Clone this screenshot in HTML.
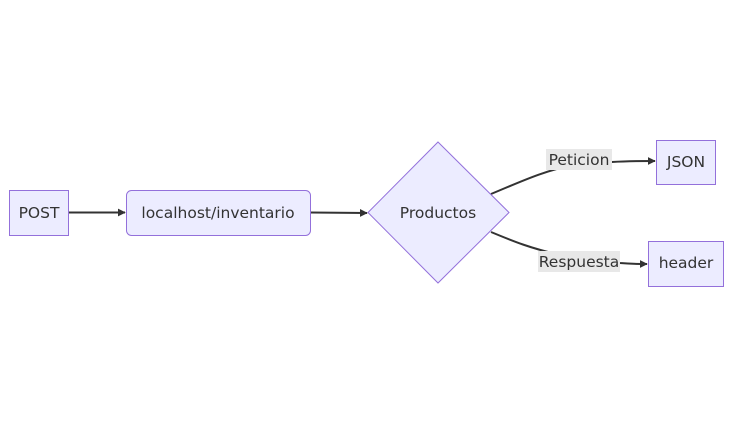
<!DOCTYPE html>
<html><head><style>
html,body{margin:0;padding:0;background:#fff;}
svg text{font-family:"DejaVu Sans","Liberation Sans",sans-serif;font-size:15.5px;fill:#333;}
</style></head><body>
<svg width="732" height="426" viewBox="0 0 732 426" xmlns="http://www.w3.org/2000/svg">
<defs><marker id="a" viewBox="0 0 10 10" refX="9" refY="5" markerWidth="4" markerHeight="4" orient="auto"><path d="M0,0L10,5L0,10z" fill="#333"/></marker></defs>
<g fill="none" stroke="#333" stroke-width="2">
<path d="M68,212.5L125,212.5" marker-end="url(#a)"/>
<path d="M310,212.5L367,213" marker-end="url(#a)"/>
<path d="M491,194C520,182 545,170 575,165L612,162C630,161 640,161 655,161" marker-end="url(#a)"/>
<path d="M491,232C515,242 530,248 560,255L620,263C632,264 640,264 647,264" marker-end="url(#a)"/>
</g>
<g fill="#ececff" stroke="#9370db" stroke-width="1">
<rect x="9.5" y="190.5" width="59" height="45"/>
<rect x="126.5" y="190.5" width="184" height="45" rx="5"/>
<path d="M438,142L509,212.5L438,283L368,212.5Z"/>
<rect x="656.5" y="140.5" width="59" height="44"/>
<rect x="648.5" y="241.5" width="75" height="45"/>
</g>
<rect x="546" y="149" width="66" height="21" fill="#e8e8e8"/>
<rect x="538" y="251" width="82" height="21" fill="#e8e8e8"/>
<g text-anchor="middle">
<text x="39" y="218">POST</text>
<text x="218" y="218">localhost/inventario</text>
<text x="438" y="218">Productos</text>
<text x="686" y="167">JSON</text>
<text x="686" y="268">header</text>
<text x="579" y="165">Peticion</text>
<text x="579" y="267">Respuesta</text>
</g>
</svg>
</body></html>
